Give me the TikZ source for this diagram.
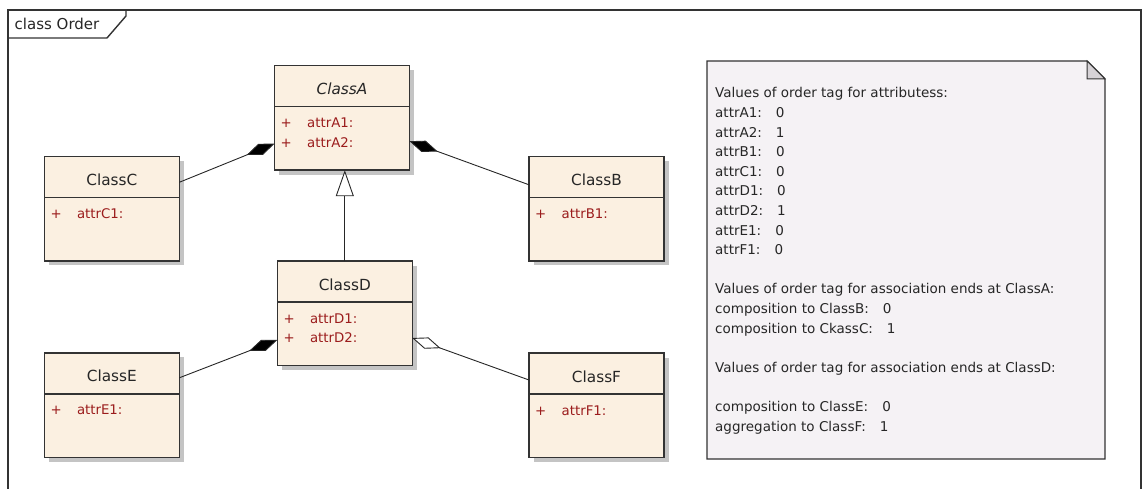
\documentclass[tikz,border=0pt]{standalone}
\usepackage{fontspec}
\setmainfont{DejaVu Sans}
\usetikzlibrary{arrows.meta,shadows}
\definecolor{classfill}{HTML}{FBF0E1}
\definecolor{attrred}{HTML}{9B1C1C}
\definecolor{linegray}{HTML}{333333}
\definecolor{shadowgray}{HTML}{C4C4C4}
\definecolor{notefill}{HTML}{F5F2F5}
\definecolor{foldfill}{HTML}{D6D2D6}
\tikzset{
  classbox/.style={draw=linegray, line width=1.4pt, fill=classfill, anchor=north west,
    minimum width=135pt, minimum height=104.5pt, inner sep=0pt, outer sep=0pt,
    drop shadow={shadow xshift=4.5pt, shadow yshift=-4.5pt, opacity=1, fill=shadowgray}},
  sepline/.style={draw=linegray, line width=1.4pt},
  classtitle/.style={font=\fontsize{15.3}{18}\selectfont, text=black!85, inner sep=0pt, anchor=base},
  attrplus/.style={font=\fontsize{13.3}{16}\selectfont, text=attrred, inner sep=0pt, anchor=base west},
  attrtext/.style={font=\fontsize{13.3}{16}\selectfont, text=attrred, inner sep=0pt, anchor=base west},
  conn/.style={draw=black!85, line width=0.9pt},
  compo/.style={conn, {Diamond[length=30pt,width=12pt,fill=black]}-},
  aggr/.style={conn, {Diamond[length=30pt,width=12pt,fill=white]}-},
  gener/.style={conn, -{Triangle[length=26pt,width=18pt,fill=white]}},
  frameline/.style={draw=linegray, line width=1.4pt},
  notetext/.style={font=\fontsize{13.5}{19.6}\selectfont, text=black!85, inner sep=0pt, align=left, anchor=north west}
}
% \umlclass{name}{x}{y}{title}{attribute list}
\newcommand{\umlclass}[5]{%
  \node[classbox] (#1) at (#2,#3) {};
  \draw[sepline] ([yshift=-41pt]#1.north west) -- ([yshift=-41pt]#1.north east);
  \node[classtitle] (#1-title) at ([yshift=-29pt]#1.north) {#4};
  \foreach \a [count=\i] in {#5} {
    \node[attrplus] (#1-p\i) at ([xshift=6pt, yshift=-62pt-19.6pt*(\i-1)]#1.north west) {+};
    \node[attrtext] (#1-a\i) at ([xshift=32.5pt, yshift=-62pt-19.6pt*(\i-1)]#1.north west) {\a};
  }%
}
\begin{document}
\begin{tikzpicture}[x=1pt, y=-1pt]
\useasboundingbox (0,0) rectangle (1145,489);
% frame
\draw[frameline] (8,489) -- (8,10) -- (1141,10) -- (1141,489);
\draw[frameline] (8,38) -- (107,38) -- (126,16) -- (126,10);
\node[font=\fontsize{15}{18}\selectfont, text=black!85, inner sep=0pt, anchor=base west] (frametitle) at (14.5,29.5) {class Order};

% classes
\umlclass{A}{274.5}{65.7}{\itshape ClassA}{attrA1:,attrA2:}
\umlclass{C}{44.3}{156.3}{ClassC}{attrC1:}
\umlclass{B}{529}{156.3}{ClassB}{attrB1:}
\umlclass{D}{277.3}{261}{ClassD}{attrD1:,attrD2:}
\umlclass{E}{44.3}{352.8}{ClassE}{attrE1:}
\umlclass{F}{529}{353}{ClassF}{attrF1:}

% connectors
\draw[compo] ([yshift=-78pt]A.north west) -- ([yshift=-26pt]C.north east);
\draw[compo] ([yshift=-75.5pt]A.north east) -- ([yshift=-28.5pt]B.north west);
\draw[compo] ([yshift=-79pt]D.north west) -- ([yshift=-25pt]E.north east);
\draw[aggr]  ([yshift=-77pt]D.north east) -- ([yshift=-27pt]F.north west);
\draw[gener] (D.north) -- (D.north |- A.south);

% note
\path[draw=linegray, line width=1.4pt, fill=notefill] (707,61) -- (1087,61) -- (1105,79) -- (1105,459) -- (707,459) -- cycle;
\path[draw=linegray, line width=1pt, fill=foldfill] (1087,61) -- (1105,79) -- (1087,79) -- cycle;
\node[notetext] (notetxt) at (715,87.5) {%
Values of order tag for attributess:\\
attrA1:\hspace{14pt}0\\
attrA2:\hspace{14pt}1\\
attrB1:\hspace{14pt}0\\
attrC1:\hspace{14pt}0\\
attrD1:\hspace{14pt}0\\
attrD2:\hspace{14pt}1\\
attrE1:\hspace{14pt}0\\
attrF1:\hspace{14pt}0\\[19.6pt]
Values of order tag for association ends at ClassA:\\
composition to ClassB:\hspace{14pt}0\\
composition to CkassC:\hspace{14pt}1\\[19.6pt]
Values of order tag for association ends at ClassD:\\[19.6pt]
composition to ClassE:\hspace{14pt}0\\
aggregation to ClassF:\hspace{14pt}1};
\end{tikzpicture}
\end{document}
